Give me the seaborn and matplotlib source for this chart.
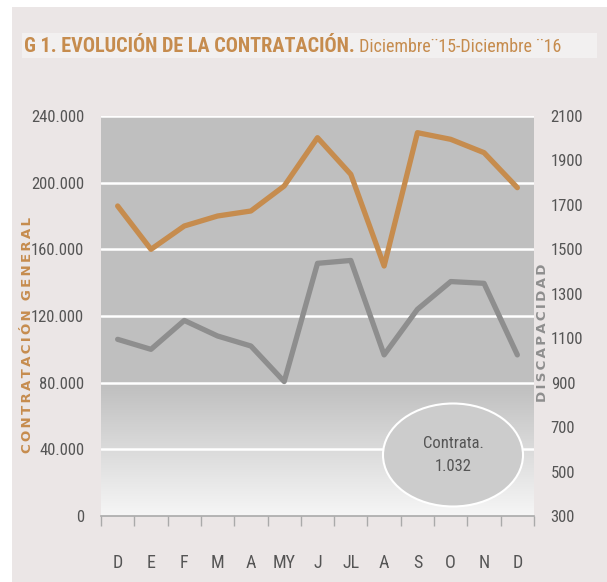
import numpy as np
import pandas as pd
import matplotlib
matplotlib.use("Agg")
import matplotlib.pyplot as plt
from matplotlib.patches import Rectangle, Ellipse
from matplotlib.colors import LinearSegmentedColormap
from matplotlib import font_manager
import seaborn as sns

months = ["D", "E", "F", "M", "A", "MY", "J", "JL", "A", "S", "O", "N", "D"]
general = [186000, 160000, 174000, 180000, 183000, 198000, 227000, 205000, 150000, 230000, 226000, 218000, 197000]
discapacidad = [1095, 1050, 1180, 1110, 1065, 905, 1437, 1450, 1025, 1230, 1355, 1347, 1025]
left_ticks = [0, 40000, 80000, 120000, 160000, 200000, 240000]
right_ticks = [300, 500, 700, 900, 1100, 1300, 1500, 1700, 1900, 2100]

sns.set_theme(style="white")
installed = {f.name for f in font_manager.fontManager.ttflist}
cands = ["Roboto Condensed", "Liberation Sans Narrow", "Roboto", "DejaVu Sans"]
NARROW = [c for c in cands if c in installed] or ["DejaVu Sans"]
plt.rcParams["font.family"] = NARROW

ORANGE = "#c68c4e"
GREY = "#8e8e8e"
TXT = "#555555"

W, H = 607, 582
fig = plt.figure(figsize=(W / 100, H / 100), dpi=100, facecolor="white")

# background panels
fig.patches.append(Rectangle((12 / W, 0), 1 - 12 / W, 1 - 7 / H, transform=fig.transFigure,
                             facecolor="#ebe6e6", edgecolor="none", zorder=-10))
fig.patches.append(Rectangle((22 / W, 1 - 58 / H), 575 / W, 25 / H, transform=fig.transFigure,
                             facecolor="#f2f0f0", edgecolor="none", zorder=-9))

ax = fig.add_axes([101 / W, 1 - 516 / H, 433 / W, 400 / H])
ax.patch.set_visible(False)

# gradient background
n = 400
frac = np.linspace(0, 1, n)  # 0 bottom, 1 top
cut = 0.33
vals = np.where(frac >= cut, 0.0, 1 - frac / cut)
grad = vals[::-1].reshape(-1, 1)
cmap = LinearSegmentedColormap.from_list("g", ["#bfbfbf", "#f6f6f6"])
ax.imshow(grad, extent=[0, 1, 0, 1], transform=ax.transAxes, aspect="auto",
          cmap=cmap, vmin=0, vmax=1, zorder=0)

df = pd.DataFrame({"x": np.arange(len(months)), "general": general, "disc": discapacidad})

sns.lineplot(data=df, x="x", y="general", ax=ax, color=ORANGE, linewidth=3.8, zorder=3)
ax2 = ax.twinx()
sns.lineplot(data=df, x="x", y="disc", ax=ax2, color=GREY, linewidth=3.8, zorder=3)

ax.set_xlim(-0.5, len(months) - 0.5)
ax.set_ylim(0, 240000)
ax2.set_ylim(300, 2100)

for y in left_ticks[1:]:
    ax.axhline(y, color="white", linewidth=1.8, zorder=1)

ax.set_yticks(left_ticks)
ax.set_yticklabels([f"{v:,}".replace(",", ".") for v in left_ticks], color=TXT, fontsize=12)
ax2.set_yticks(right_ticks)
ax2.set_yticklabels([str(v) for v in right_ticks], color=TXT, fontsize=12)
ax.tick_params(axis="y", length=0, pad=12)
ax2.tick_params(axis="y", length=0, pad=12)

ax.set_xticks(np.arange(len(months)))
ax.set_xticklabels(months, color=TXT, fontsize=13)
ax.set_xticks(np.arange(-0.5, len(months)), minor=True)
ax.tick_params(axis="x", which="major", length=0, pad=27)
ax.tick_params(axis="x", which="minor", length=7, width=1, color="#aaaaaa", direction="out", bottom=True)
ax.set_xlabel("")
ax.set_ylabel("")
ax2.set_ylabel("")

for a in (ax, ax2):
    for s in ["top", "left", "right", "bottom"]:
        a.spines[s].set_visible(False)
ax.spines["bottom"].set_visible(True)
ax.spines["bottom"].set_color("#aaaaaa")
ax.spines["bottom"].set_linewidth(1.2)

# axis titles, letter-spaced to the reference length
renderer = fig.canvas.get_renderer()


def spaced_label(x, y, word, color, target):
    best = None
    for sep in ["", "\u200a", "\u2006", "\u2009", "\u2005", "\u2004"]:
        s = sep.join(word)
        t = fig.text(x, y, s, rotation=90, ha="center", va="center", color=color,
                     fontsize=9.6, fontweight="bold", family=["DejaVu Sans"])
        h = t.get_window_extent(renderer).height
        if best is None or abs(h - target) < best[0]:
            if best is not None:
                best[1].remove()
            best = (abs(h - target), t)
        else:
            t.remove()
    return best[1]


spaced_label(27.5 / W, 1 - 335 / H, "CONTRATACIÓN GENERAL", ORANGE, 236)
spaced_label(543 / W, 1 - 333 / H, "DISCAPACIDAD", GREY, 140)

# ellipse annotation
cx = (453 - 101) / 433 * 13 - 0.5
cy = (516 - 455) * 600
ax.add_patch(Ellipse((cx, cy), 140 / 433 * 13, 103 * 600, facecolor="#cccccc",
                     edgecolor="white", linewidth=1.5, zorder=4))
ax.text(cx, cy, "Contrata.\n1.032", ha="center", va="center", color=TXT, fontsize=12,
        linespacing=1.6, zorder=5)

# title
t1 = fig.text(24 / W, 1 - 46 / H, "G 1. EVOLUCIÓN DE LA CONTRATACIÓN.", ha="left", va="center",
              color=ORANGE, fontsize=14.6, fontweight="bold")
ax.annotate(" Diciembre¨15-Diciembre ¨16", xy=(1, 0), xycoords=t1, xytext=(0, 0),
            textcoords="offset points", ha="left", va="bottom", color=ORANGE, fontsize=13,
            annotation_clip=False)

fig.savefig("out.png", dpi=100, facecolor=fig.get_facecolor())
